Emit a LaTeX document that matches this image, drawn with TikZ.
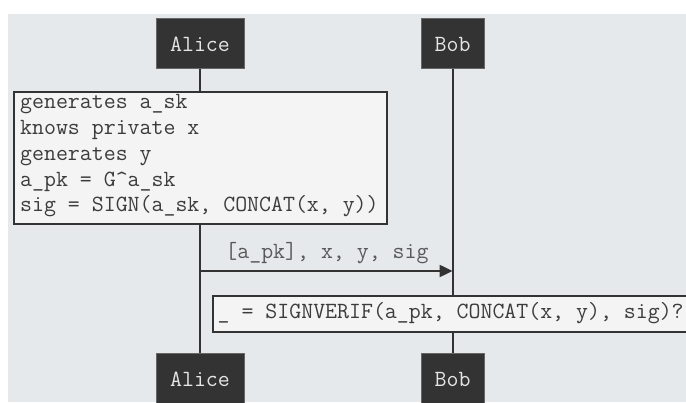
\documentclass[tikz,border=0pt]{standalone}
\usetikzlibrary{arrows.meta}
\definecolor{bgcol}{HTML}{E6E9EC}
\definecolor{boxcol}{HTML}{333333}
\definecolor{notecol}{HTML}{F4F4F4}
\definecolor{inkcol}{HTML}{333333}
\definecolor{txtcol}{HTML}{3C3C3C}
\newcommand{\seqfont}{\ttfamily\fontsize{23.2}{25.75}\selectfont}

\begin{document}
\begin{tikzpicture}[x=1pt,y=-1pt,
  actorbox/.style={draw=black!60,line width=1pt,fill=boxcol,text=white!90!black,
    minimum height=50,inner sep=0,font=\seqfont},
  notebox/.style={draw=inkcol,line width=2pt,fill=notecol,anchor=north west,inner sep=0},
  notetext/.style={anchor=base west,inner sep=0,text=txtcol,font=\seqfont},
  lifeln/.style={draw=inkcol,line width=2pt},
  msgarrow/.style={draw=inkcol,line width=2pt,-{Triangle[length=13pt,width=12pt]}},
]
\useasboundingbox (0,0) rectangle (686,403);
\clip (0,0) rectangle (686,403);
\fill[bgcol] (7.5,14) rectangle (686,402);
% actors
\node[actorbox,minimum width=88](aliceTop) at (200,44){Alice};
\node[actorbox,minimum width=63](bobTop) at (452.6,44){Bob};
\node[actorbox,minimum width=88](aliceBot) at (200,379){Alice};
\node[actorbox,minimum width=63](bobBot) at (452.6,379){Bob};
\draw[lifeln](aliceTop)--(aliceBot); \draw[lifeln](bobTop)--(bobBot);
% Alice prepares
\node[notebox,minimum width=373,minimum height=132](prep) at (13,91){};
\node[notetext](p1) at (20,109){generates a\_sk};
\node[notetext](p2) at (20,134.75){knows private x};
\node[notetext](p3) at (20,160.5){generates y};
\node[notetext](p4) at (20,186.25){a\_pk = G\textasciicircum a\_sk};
\node[notetext](p5) at (20,212){sig = SIGN(a\_sk, CONCAT(x, y))};
% message
\coordinate(m1s) at (200,271); \coordinate(m1e) at (452.6,271);
\draw[msgarrow](m1s)--(m1e);
\node[notetext,anchor=base,text=black!65](m1) at (327,259){[a\_pk], x, y, sig};
% Bob verifies
\node[notebox,minimum width=600,minimum height=36](verif) at (212,295){};
\node[notetext](v1) at (217.5,319){\_ = SIGNVERIF(a\_pk, CONCAT(x, y), sig)?};
\end{tikzpicture}
\end{document}
